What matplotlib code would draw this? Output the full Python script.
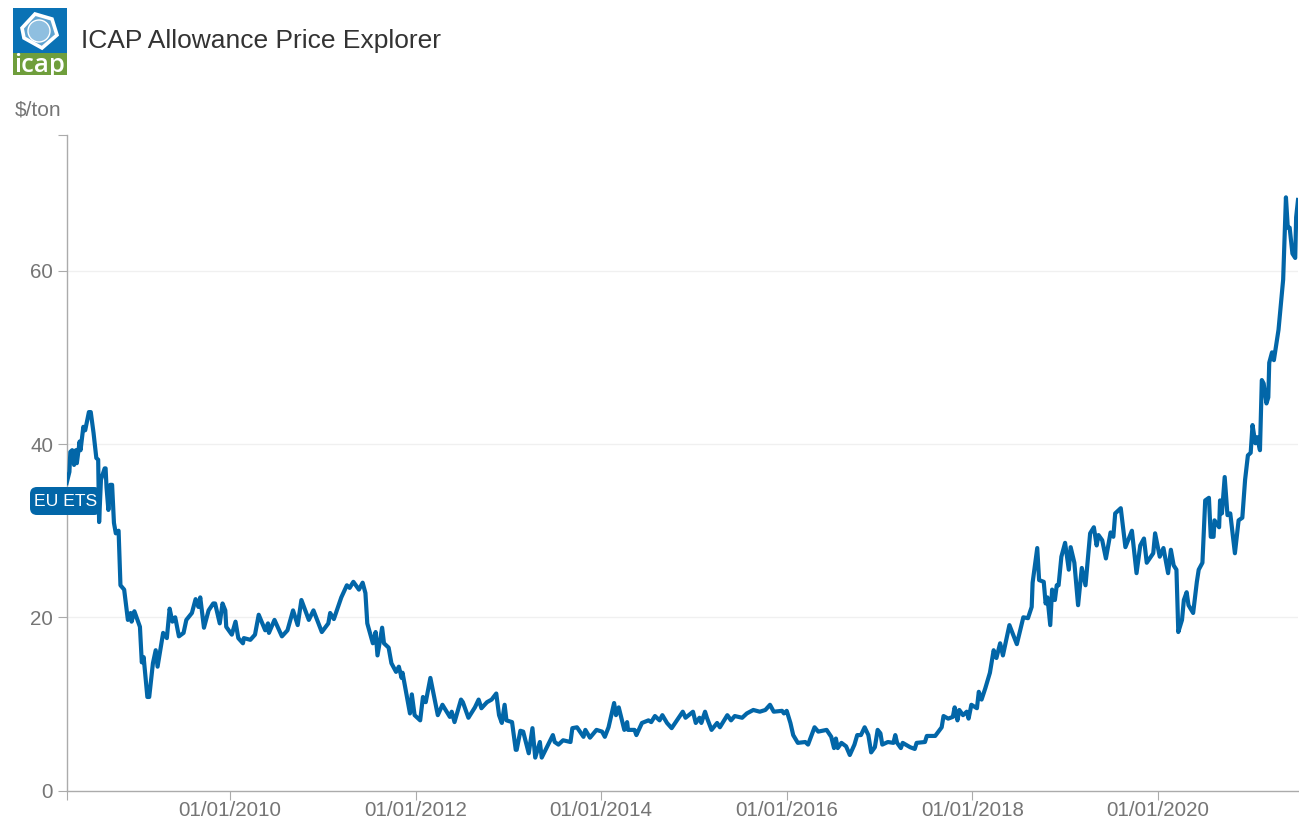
import matplotlib
matplotlib.use("Agg")
import matplotlib.pyplot as plt
from matplotlib.patches import FancyBboxPatch, Polygon, Rectangle, Circle
from matplotlib.transforms import Affine2D

plt.rcParams['font.family'] = ['Liberation Sans', 'DejaVu Sans']

# Decimal years (axis is a continuous date scale)
years = [
 2008.24,2008.27,2008.28,2008.30,2008.32,2008.34,2008.35,2008.38,2008.39,2008.42,2008.44,2008.48,2008.50,2008.53,2008.56,2008.58,
 2008.59,2008.61,2008.65,2008.66,2008.67,2008.69,2008.71,2008.73,2008.75,2008.77,2008.80,2008.82,2008.86,2008.90,2008.93,2008.94,2008.97,
 2009.03,2009.05,2009.07,2009.11,2009.13,2009.17,2009.20,2009.22,2009.28,2009.32,2009.35,2009.38,2009.41,2009.45,2009.50,2009.53,2009.59,
 2009.63,2009.66,2009.68,2009.72,2009.77,2009.82,2009.84,2009.89,2009.92,2009.95,2009.96,
 2010.02,2010.06,2010.09,2010.14,2010.15,2010.22,2010.27,2010.31,2010.38,2010.41,2010.42,2010.48,2010.56,2010.62,2010.68,2010.73,2010.77,2010.85,2010.90,2010.99,
 2011.06,2011.08,2011.12,2011.20,2011.26,2011.29,2011.33,2011.39,2011.43,2011.46,2011.48,2011.54,2011.57,2011.59,2011.64,2011.66,2011.71,2011.74,2011.79,2011.82,2011.85,2011.86,2011.94,2011.96,2011.99,
 2012.05,2012.08,2012.11,2012.16,2012.24,2012.29,2012.37,2012.39,2012.42,2012.49,2012.51,2012.57,2012.64,2012.68,2012.71,2012.77,2012.82,2012.87,2012.90,2012.93,2012.96,2012.98,
 2013.04,2013.08,2013.09,2013.13,2013.16,2013.22,2013.26,2013.29,2013.34,2013.36,2013.43,2013.48,2013.50,2013.54,2013.59,2013.67,2013.69,2013.74,2013.81,2013.83,2013.88,2013.95,
 2014.01,2014.04,2014.08,2014.14,2014.16,2014.19,2014.25,2014.28,2014.29,2014.36,2014.38,2014.44,2014.51,2014.54,2014.58,2014.63,2014.66,2014.71,2014.76,2014.81,2014.88,2014.91,2014.99,
 2015.02,2015.06,2015.08,2015.12,2015.14,2015.19,2015.25,2015.28,2015.36,2015.40,2015.44,2015.52,2015.57,2015.64,2015.71,2015.77,2015.82,2015.86,2015.95,2015.97,
 2016.00,2016.04,2016.07,2016.12,2016.20,2016.23,2016.30,2016.34,2016.43,2016.48,2016.51,2016.53,2016.55,2016.59,2016.64,2016.68,2016.73,2016.76,2016.80,2016.84,2016.88,2016.91,2016.95,2016.98,
 2017.01,2017.03,2017.09,2017.15,2017.17,2017.19,2017.23,2017.25,2017.33,2017.38,2017.40,2017.49,2017.51,2017.60,2017.67,2017.69,2017.74,2017.79,2017.81,2017.84,2017.86,2017.90,2017.94,2017.96,2017.99,
 2018.05,2018.07,2018.10,2018.14,2018.19,2018.23,2018.26,2018.30,2018.33,2018.40,2018.48,2018.55,2018.60,2018.64,2018.65,2018.70,2018.72,2018.77,2018.79,2018.81,2018.84,2018.86,2018.89,2018.91,2018.93,2018.96,
 2019.00,2019.04,2019.06,2019.10,2019.14,2019.18,2019.22,2019.27,2019.31,2019.34,2019.36,2019.40,2019.44,2019.49,2019.52,2019.54,2019.60,2019.65,2019.72,2019.77,2019.81,2019.85,2019.88,2019.95,2019.97,
 2020.02,2020.06,2020.11,2020.14,2020.17,2020.20,2020.22,2020.26,2020.28,2020.31,2020.33,2020.38,2020.42,2020.44,2020.48,2020.51,2020.55,2020.57,2020.60,2020.61,2020.66,2020.67,2020.69,2020.72,2020.75,2020.78,2020.83,2020.87,2020.91,2020.94,2020.97,
 2021.00,2021.02,2021.05,2021.07,2021.10,2021.12,2021.14,2021.17,2021.19,2021.20,2021.23,2021.25,2021.30,2021.35,2021.38,2021.40,2021.42,2021.45,2021.48,2021.49,2021.51,
]

# EU ETS allowance price, $/ton
prices = [
 35.5,36.8,39.1,39.3,37.6,39.3,37.8,40.3,39.3,42,41.6,43.7,43.7,41.3,38.4,38.2,
 31,35.9,37.2,37.2,35,32.4,35.3,35.3,30.9,29.7,30,23.7,23.2,19.7,20.5,19.5,20.7,
 18.9,14.8,15.4,10.8,10.8,14.7,16.2,14.3,18.2,17.6,21,19.5,20,17.8,18.2,19.7,20.5,
 22.1,21.2,22.3,18.8,20.8,21.6,21.6,19.3,21.6,20.8,18.9,
 18,19.5,17.6,17,17.6,17.4,18,20.3,18.5,19.3,18.2,19.7,17.8,18.5,20.8,19.1,22,19.7,20.8,18.3,
 19.3,20.5,19.8,22.3,23.7,23.4,24.1,23.2,24,22.8,19.3,17,18.3,15.6,18.8,17,16.5,14.7,13.7,14.3,13,13.6,8.9,11.1,8.7,
 8.1,10.8,10.2,13,8.7,9.9,8.5,9.1,7.9,10.5,10.2,8.4,9.6,10.5,9.5,10.2,10.5,11.2,8.7,7.8,9.9,8.1,
 7.9,4.7,4.7,6.9,6.8,4.3,7.2,3.8,5.6,3.8,5.3,6.4,5.6,5.3,5.8,5.6,7.2,7.3,6.2,7,6.1,7,
 6.8,6.2,7.3,10.1,8.7,9.6,7,7.9,7,7,6.4,7.8,8.1,7.9,8.6,8.1,8.7,7.8,7.2,8,9.1,8.4,9.1,
 7.8,8.4,7.8,9.1,8.4,7,7.8,7.3,8.7,8.1,8.6,8.4,8.9,9.3,9.1,9.3,9.9,9.1,9.2,8.9,
 9.2,7.8,6.4,5.5,5.6,5.3,7.3,6.8,7,6.2,4.9,6,4.9,5.5,5.1,4.1,5.3,6.4,6.4,7.3,6.4,4.4,5,7,
 6.6,5.3,5.6,5.5,6.4,5.5,4.9,5.5,5,4.8,5.5,5.6,6.3,6.3,7.3,8.6,8.3,8.5,9.6,8.1,9.3,8.7,9.1,8.3,9.9,
 9.5,11.4,10.5,11.8,13.6,16.2,15.3,17,15.6,19.1,16.9,20,19.9,21.2,24,28,24.3,24.1,21.6,22.3,19.1,23.2,22,23.7,23.7,27,
 28.6,25.5,28.1,26.3,21.4,25.7,23.7,29.7,30.4,28.3,29.5,28.9,26.8,29.8,29.3,32,32.6,28.1,30,25.1,28.3,29.1,26.3,27.4,29.7,
 27,28,25.1,27.8,26,25.5,18.3,19.7,22,22.9,21.4,20.5,24.1,25.5,26.3,33.5,33.8,29.3,29.3,31.2,30.4,33.5,32,36.2,31.8,32,27.4,31.2,31.5,35.9,38.7,
 39,42.2,40.1,40.8,39.3,47.4,47,44.7,45.4,49.4,50.6,49.7,53.2,59,68.5,65,65,62,61.5,66.2,68.2,
]

x_tick_years = [2010, 2012, 2014, 2016, 2018, 2020]
x_tick_labels = ['01/01/2010', '01/01/2012', '01/01/2014', '01/01/2016', '01/01/2018', '01/01/2020']
y_ticks = [0, 20, 40, 60]

series_name = 'EU ETS'
title = 'ICAP Allowance Price Explorer'
unit = '$/ton'

W, H = 1299, 822
BLUE = '#0266a8'
AX = '#ababab'
TXT = '#757575'

fig = plt.figure(figsize=(W / 100, H / 100), dpi=100, facecolor='white')
ax = fig.add_axes([67 / W, 1 - 790.5 / H, (1298 - 67) / W, (790.5 - 135) / H])
ax.set_xlim(2008.244, 2021.51)
ax.set_ylim(0, 75.7)

ax.grid(False)
for v in y_ticks[1:]:
    ax.axhline(v, color='#f0f0f0', lw=1.0, zorder=1)

ax.plot(years, prices, color=BLUE, lw=3.0, solid_joinstyle='round', zorder=3)

for s in ('top', 'right'):
    ax.spines[s].set_visible(False)
for s in ('left', 'bottom'):
    ax.spines[s].set_color(AX)
    ax.spines[s].set_linewidth(1.0)

ax.set_xticks([2008.244] + x_tick_years)
ax.set_xticklabels([''] + x_tick_labels)
ax.set_yticks(y_ticks + [75.7])
ax.set_yticklabels([str(v) for v in y_ticks] + [''])
ax.tick_params(axis='both', length=6.5, width=0.8, color=AX, labelcolor=TXT, labelsize=14.8)
ax.tick_params(axis='x', pad=1.0)
ax.tick_params(axis='y', pad=3.5)


def fx(px):
    return px / W


def fy(py):
    return 1 - py / H


fig.text(fx(81), fy(41), title, fontsize=19, color='#333333', va='center', ha='left')
fig.text(fx(14.5), fy(110), unit, fontsize=15, color=TXT, va='center', ha='left')

px_tf = Affine2D().scale(1, -1).translate(0, H)

# Series label on the line
fig.add_artist(FancyBboxPatch((35, 492), 61, 18,
                              boxstyle='round,pad=5,rounding_size=7',
                              transform=px_tf, fc=BLUE, ec='none', zorder=10))
fig.text(fx(66), fy(501.5), series_name, fontsize=12.6, color='white', va='center', ha='center', zorder=11)

# Logo
fig.add_artist(Rectangle((13, 8), 54, 46, fc='#0a72b5', ec='none', transform=px_tf))
fig.add_artist(Rectangle((13, 53), 54, 22, fc='#6f9e3c', ec='none', transform=px_tf))
fig.add_artist(Polygon([(35, 14), (52, 19), (57, 35), (42, 48), (24, 38), (22, 28)], closed=True,
                       fc='#5fa3d0', ec='white', lw=2.6, transform=px_tf))
fig.add_artist(Circle((39, 31), 11, fc='#8fbfe0', ec='white', lw=1.0, transform=px_tf))
fig.text(fx(40), fy(65), 'icap', fontsize=18.5, color='white', va='center', ha='center',
         fontfamily='Open Sans', fontweight='semibold')

fig.savefig('out.png', dpi=100, facecolor='white')
